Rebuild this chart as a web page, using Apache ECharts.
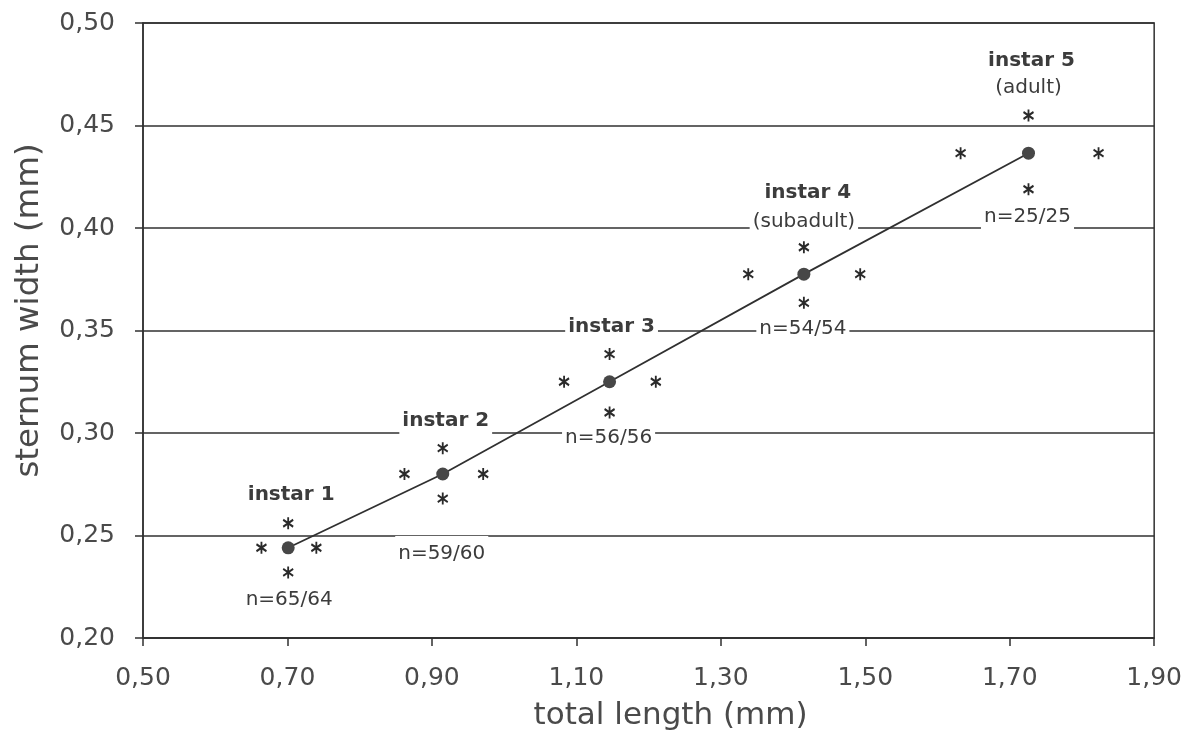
<!DOCTYPE html>
<html>
<head>
<meta charset="utf-8">
<script src="https://cdn.jsdelivr.net/npm/echarts@6/dist/echarts.min.js"></script>
<style>html,body{margin:0;padding:0;background:#fff}#c{width:1185px;height:738px}</style>
</head>
<body>
<div id="c"></div>
<script>
// ---- data ----
const instarNames = ['instar 1', 'instar 2', 'instar 3', 'instar 4', 'instar 5'];
const stageNames = ['', '', '', '(subadult)', '(adult)'];
const sampleSizes = ['n=65/64', 'n=59/60', 'n=56/56', 'n=54/54', 'n=25/25'];
const meanLength = [0.701, 0.915, 1.146, 1.415, 1.726];
const meanWidth = [0.244, 0.280, 0.325, 0.3775, 0.4365];
const lowLength = [0.664, 0.862, 1.083, 1.338, 1.632];
const highLength = [0.740, 0.971, 1.210, 1.493, 1.823];
const lowWidth = [0.232, 0.268, 0.310, 0.3635, 0.4189];
const highWidth = [0.256, 0.2926, 0.3385, 0.3906, 0.4549];
const xTicks = [0.50, 0.70, 0.90, 1.10, 1.30, 1.50, 1.70, 1.90];
const yTicks = [0.20, 0.25, 0.30, 0.35, 0.40, 0.45, 0.50];

// ---- label layout (pixel offsets relative to the mean point) ----
const nameOffsets = [[3, -53], [3, -53], [2, -55], [4, -81], [3, -92]];
const stageOffsets = [[0, 0], [0, 0], [0, 0], [0, -52], [0, -65]];
const nOffsets = [[1, 52], [-1, 80], [-1, 56], [-1, 55], [-1, 64]];

const FONT = 'DejaVu Sans';
const TXT = '#4a4a4a';
const LBL = '#3c3c3c';
const LINE = '#303030';

const spread = [];
for (let i = 0; i < meanLength.length; i++) {
  spread.push([lowLength[i], meanWidth[i]]);
  spread.push([highLength[i], meanWidth[i]]);
  spread.push([meanLength[i], lowWidth[i]]);
  spread.push([meanLength[i], highWidth[i]]);
}
const means = meanLength.map((x, i) => [x, meanWidth[i]]);

function labelSeries(texts, offsets, bold) {
  return {
    type: 'scatter',
    symbolSize: 0,
    silent: true,
    z: 10,
    itemStyle: {opacity: 1},
    data: means.map((p, i) => ({
      value: p,
      label: {
        show: texts[i] !== '',
        position: 'inside',
        offset: offsets[i],
        formatter: texts[i],
        fontFamily: FONT,
        fontSize: 20,
        fontWeight: bold ? 'bold' : 'normal',
        color: LBL,
        backgroundColor: '#ffffff',
        padding: [8, 3, 8, 3],
        lineHeight: 20
      }
    }))
  };
}

const fmt = v => v.toFixed(2).replace('.', ',');

const chart = echarts.init(document.getElementById('c'), null, {renderer: 'canvas'});
chart.setOption({
  backgroundColor: '#ffffff',
  animation: false,
  grid: {left: 143, right: 28, top: 23, bottom: 100, show: true, borderColor: LINE, borderWidth: 1.5, backgroundColor: 'transparent'},
  xAxis: {
    type: 'value',
    min: xTicks[0], max: xTicks[xTicks.length - 1], interval: 0.2,
    name: 'total length (mm)',
    nameLocation: 'middle',
    nameGap: 62,
    nameTextStyle: {fontFamily: FONT, fontSize: 31, color: TXT, padding: [0, 0, 0, 44]},
    axisLine: {lineStyle: {color: LINE, width: 1.5}},
    axisTick: {show: true, inside: false, length: 8, lineStyle: {color: LINE, width: 1.5}},
    axisLabel: {fontFamily: FONT, fontSize: 25, color: TXT, margin: 28, formatter: fmt},
    splitLine: {show: false}
  },
  yAxis: {
    type: 'value',
    min: yTicks[0], max: yTicks[yTicks.length - 1], interval: 0.05,
    name: 'sternum width (mm)',
    nameLocation: 'middle',
    nameGap: 97,
    nameRotate: 90,
    nameTextStyle: {fontFamily: FONT, fontSize: 32.5, color: TXT, padding: [0, 0, 0, 40]},
    axisLine: {lineStyle: {color: LINE, width: 1.5}},
    axisTick: {show: true, inside: false, length: 8, lineStyle: {color: LINE, width: 1.5}},
    axisLabel: {fontFamily: FONT, fontSize: 25, color: TXT, margin: 28, formatter: fmt},
    splitLine: {show: true, lineStyle: {color: LINE, width: 1.5}}
  },
  series: [
    {
      type: 'scatter',
      data: spread,
      symbol: 'path://M5,0L5,12M0,2.5L10,9.5M0,9.5L10,2.5',
      symbolSize: [10, 12],
      itemStyle: {color: 'rgba(0,0,0,0)', borderColor: '#2a2a2a', borderWidth: 2, opacity: 1},
      z: 3
    },
    {
      type: 'line',
      data: means,
      symbol: 'circle',
      symbolSize: 13,
      itemStyle: {color: '#474747', borderWidth: 0},
      lineStyle: {color: LINE, width: 1.8},
      z: 4
    },
    labelSeries(instarNames, nameOffsets, true),
    labelSeries(stageNames, stageOffsets, false),
    labelSeries(sampleSizes, nOffsets, false)
  ]
});
</script>
</body>
</html>
